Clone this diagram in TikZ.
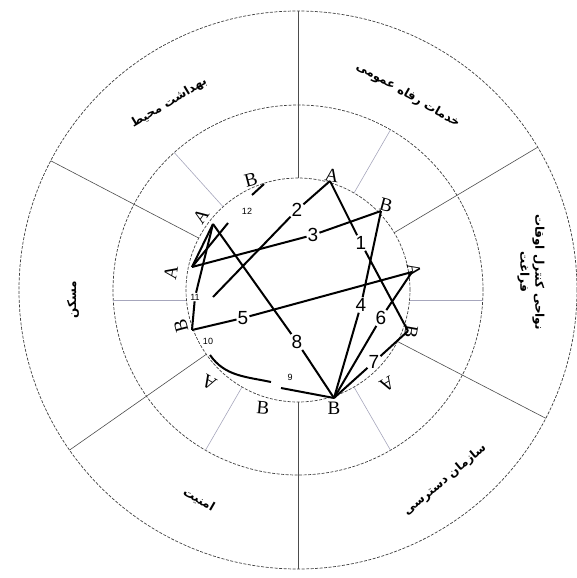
\documentclass[tikz,border=0pt]{standalone}
\usepackage{fontspec}
\newfontfamily\fa[Script=Arabic]{DejaVu Sans}
\newfontfamily\arialf{Liberation Sans}
\newfontfamily\timesf{Liberation Serif}
\TeXXeTstate=1
\begin{document}
\begin{tikzpicture}[x=1pt,y=-1pt,
  ring/.style={draw=black!75, line width=0.7pt, dash pattern=on 3pt off 1.5pt},
  outdiv/.style={draw=black!70, line width=0.6pt},
  middiv/.style={draw=blue!25!black!35, line width=0.6pt},
  pathln/.style={draw=black, line width=2pt},
  numlab/.style={font=\arialf\fontsize{19}{19}\selectfont, inner sep=1pt},
  smalllab/.style={font=\arialf\fontsize{9}{9}\selectfont, inner sep=1pt},
  letlab/.style={font=\timesf\fontsize{19}{19}\selectfont, inner sep=0.5pt},
  falab/.style={font=\fa\bfseries\fontsize{12}{15}\selectfont, align=center, inner sep=1pt}]
\useasboundingbox (0,0) rectangle (576,578);
\coordinate (C) at (298,290);
% rings
\draw[ring] (C) circle (279pt);
\draw[ring] (C) circle (185pt);
\draw[ring] (C) circle (112pt);
% outer dividers
\draw[outdiv] (298,178) -- (298,11);
\draw[outdiv] (394.2,232.7) -- (537.7,147.2);
\draw[outdiv] (397.5,341.5) -- (545.8,418.3);
\draw[outdiv] (298,402) -- (298,569);
\draw[outdiv] (206.3,354.3) -- (69.5,450.1);
\draw[outdiv] (198.8,238.1) -- (50.8,160.8);
% middle dividers
\draw[middiv] (354,193) -- (390.5,129.8);
\draw[middiv] (223.1,206.8) -- (174.2,152.5);
\draw[middiv] (354,387) -- (390.5,450.2);
\draw[middiv] (242,387) -- (205.5,450.2);
\draw[middiv] (186.4,300) -- (113.3,300);
\draw[middiv] (409.6,300) -- (482.7,300);
% sector texts
\node[falab, rotate=31] (t1) at (169,103) {\beginR بهداشت محیط\endR};
\node[falab, rotate=-30] (t2) at (408,95) {\beginR خدمات رفاه عمومی\endR};
\node[falab, rotate=-90] (t3) at (531,272) {\beginR نواحی کنترل اوقات\endR\\ \beginR فراغت\endR};
\node[falab, rotate=90] (t4) at (73,300) {\beginR مسکن\endR};
\node[falab, rotate=-30] (t5) at (199,500) {\beginR امنیت\endR};
\node[falab, rotate=40] (t6) at (445,480) {\beginR سازمان دسترسی\endR};
% end points
\coordinate (pAt) at (330,181);
\coordinate (pBur) at (381,211);
\coordinate (pAr) at (412,272);
\coordinate (pBr) at (408,331);
\coordinate (pBb) at (334,398);
\coordinate (pAl) at (192,267);
\coordinate (pAtl) at (213,224);
\coordinate (pBl) at (192,330);
\coordinate (s2) at (213,297);
\coordinate (g12a) at (228,223);
\coordinate (g12b) at (252,195);
\coordinate (pBt) at (264,184);
\coordinate (s9) at (210,355);
\coordinate (e9) at (271,382);
\coordinate (s9b) at (281,388);
% number labels
\node[numlab] (n1) at (361,243) {1};
\node[numlab] (n2) at (297,210) {2};
\node[numlab] (n3) at (313,235) {3};
\node[numlab] (n4) at (361,305) {4};
\node[numlab] (n5) at (243,318) {5};
\node[numlab] (n6) at (381,318) {6};
\node[numlab] (n7) at (374,362) {7};
\node[numlab] (n8) at (297,342) {8};
\node[smalllab] (n9) at (290,377) {9};
\node[smalllab] (n10) at (208,341) {10};
\node[smalllab] (n11) at (195,297) {11};
\node[smalllab] (n12) at (247,211) {12};
% A / B labels
\node[letlab, rotate=15] (lB1) at (251,180) {B};
\node[letlab, rotate=55] (lA1) at (201,216) {A};
\node[letlab, rotate=80] (lA2) at (171,273) {A};
\node[letlab, rotate=105] (lB2) at (181,326) {B};
\node[letlab, rotate=150] (lA3) at (209,382) {A};
\node[letlab, rotate=-5] (lB3) at (263,408) {B};
\node[letlab] (lB4) at (334,408) {B};
\node[letlab, rotate=-150] (lA4) at (387,384) {A};
\node[letlab, rotate=-100] (lB5) at (411,332) {B};
\node[letlab, rotate=-80] (lA5) at (414,270) {A};
\node[letlab, rotate=-15] (lB6) at (386,205) {B};
\node[letlab, rotate=-10] (lA6) at (332,176) {A};
% paths
\draw[pathln] (pAt) -- (n1) -- (pBr);
\draw[pathln] (s2) -- (n2) -- (pAt);
\draw[pathln] (pAl) -- (n3) -- (pBur);
\draw[pathln] (pBur) -- (n4) -- (pBb);
\draw[pathln] (pBl) -- (n5) -- (pAr);
\draw[pathln] (pAr) -- (n6) -- (pBb);
\draw[pathln] (pBr) -- (n7) -- (pBb);
\draw[pathln] (pAtl) -- (n8) -- (pBb);
\draw[pathln] (pAl) -- (g12a);
\draw[pathln] (g12b) -- (pBt);
\draw[pathln] (pAtl) -- (n11) -- (pBl);
\draw[pathln] (pAl) -- (pAtl);
\draw[pathln] (s9) to[out=-55,in=168] (e9);
\draw[pathln] (s9b) -- (pBb);
\end{tikzpicture}
\end{document}
